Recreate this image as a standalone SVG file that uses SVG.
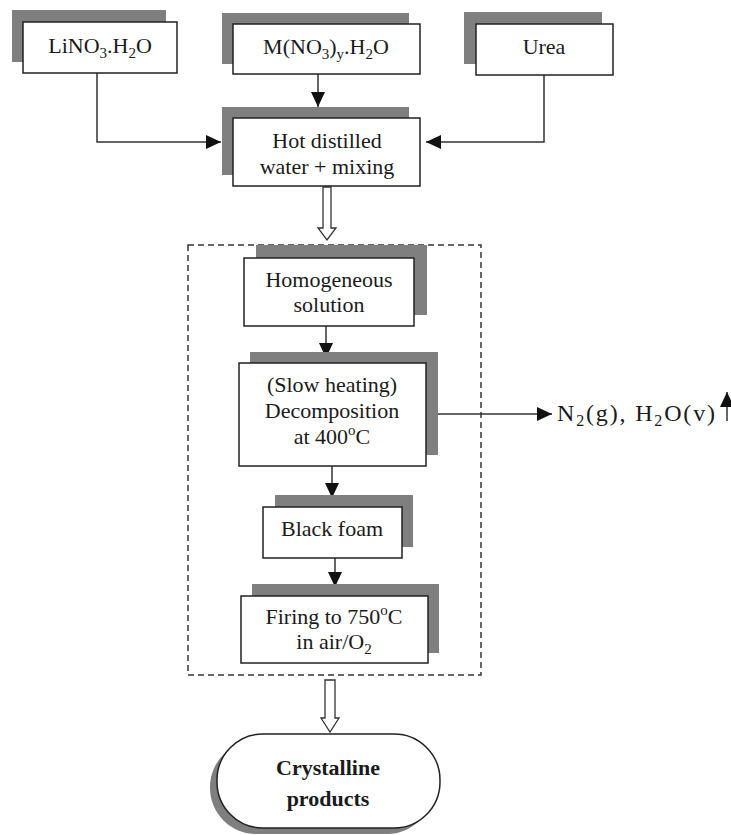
<svg xmlns="http://www.w3.org/2000/svg" width="731" height="835" viewBox="0 0 731 835">
<style>
.sh{fill:#7f7f7f}
.bx{fill:#fff;stroke:#222;stroke-width:1.5}
.t{font-family:"Liberation Serif","Times New Roman",serif;font-size:22px;fill:#1a1a1a;text-anchor:middle}
.b{font-weight:bold}
.ln{fill:none;stroke:#333;stroke-width:1.5}
.ha{fill:#fff;stroke:#333;stroke-width:1.3}
.sub{font-size:15px}
</style>
<defs>
<marker id="ahl" viewBox="0 0 15 14" refX="15" refY="7" markerWidth="15" markerHeight="14" markerUnits="userSpaceOnUse" orient="auto">
<path d="M0,0 L15,7 L0,14 z" fill="#111"/>
</marker>
</defs>
<g id="connectors">
<path class="ln" d="M97,73 V142 H221" marker-end="url(#ahl)"/>
<path class="ln" d="M544,75 V142 H426" marker-end="url(#ahl)"/>
<path class="ln" d="M318,74 V107" marker-end="url(#ahl)"/>
<path class="ha" d="M323,187 V228 H318 L327,240 L336,228 H331 V187 z"/>
<rect x="188" y="245" width="293" height="430" fill="none" stroke="#333" stroke-width="1.5" stroke-dasharray="6,4"/>
<path class="ln" d="M326,326 V358" marker-end="url(#ahl)"/>
<path class="ln" d="M426,414 H552" marker-end="url(#ahl)"/>
<path class="ln" d="M727,421 V392" marker-end="url(#ahl)"/>
<path class="ln" d="M332,466 V498" marker-end="url(#ahl)"/>
<path class="ln" d="M335,558 V587" marker-end="url(#ahl)"/>
<path class="ha" d="M325,680 V718 H321 L330,732 L339,718 H335 V680 z"/>
</g>
<g id="lino3">
<rect class="sh" x="12" y="10" width="154" height="52"/>
<rect class="bx" x="23" y="22" width="154" height="51"/>
<text class="t" x="100" y="53">LiNO<tspan class="sub" dy="5">3</tspan><tspan dy="-5">.H</tspan><tspan class="sub" dy="5">2</tspan><tspan dy="-5">O</tspan></text>
</g>
<g id="mno3">
<rect class="sh" x="222" y="13" width="187" height="51"/>
<rect class="bx" x="233" y="24" width="187" height="50"/>
<text class="t" x="326" y="54">M(NO<tspan class="sub" dy="5">3</tspan><tspan dy="-5">)</tspan><tspan class="sub" dy="5">y</tspan><tspan dy="-5">.H</tspan><tspan class="sub" dy="5">2</tspan><tspan dy="-5">O</tspan></text>
</g>
<g id="urea">
<rect class="sh" x="464" y="12" width="138" height="52"/>
<rect class="bx" x="476" y="24" width="137" height="51"/>
<text class="t" x="544" y="54">Urea</text>
</g>
<g id="mixing">
<rect class="sh" x="222" y="107" width="187" height="68"/>
<rect class="bx" x="233" y="118" width="187" height="68"/>
<text class="t" x="327" y="148">Hot distilled</text>
<text class="t" x="327" y="174">water + mixing</text>
</g>
<g id="homogeneous">
<rect class="sh" x="256" y="245" width="171" height="70"/>
<rect class="bx" x="244" y="258" width="170" height="68"/>
<text class="t" x="329" y="287">Homogeneous</text>
<text class="t" x="329" y="312">solution</text>
</g>
<g id="decomposition">
<rect class="sh" x="250" y="352" width="188" height="103"/>
<rect class="bx" x="239" y="363" width="187" height="103"/>
<text class="t" x="332" y="392">(Slow heating)</text>
<text class="t" x="332" y="418">Decomposition</text>
<text class="t" x="332" y="444">at 400<tspan class="sub" dy="-9">o</tspan><tspan dy="9">C</tspan></text>
</g>
<g id="gases">
<text class="t" x="557" y="421" textLength="158" lengthAdjust="spacing" style="text-anchor:start;font-size:24px">N<tspan class="sub" dy="5" style="font-size:16px">2</tspan><tspan dy="-5">(g), H</tspan><tspan class="sub" dy="5" style="font-size:16px">2</tspan><tspan dy="-5">O(v)</tspan></text>
</g>
<g id="foam">
<rect class="sh" x="275" y="495" width="138" height="52"/>
<rect class="bx" x="263" y="507" width="139" height="51"/>
<text class="t" x="332" y="536">Black foam</text>
</g>
<g id="firing">
<rect class="sh" x="252" y="584" width="187" height="69"/>
<rect class="bx" x="241" y="596" width="187" height="67"/>
<text class="t" x="334" y="624">Firing to 750<tspan class="sub" dy="-9">o</tspan><tspan dy="9">C</tspan></text>
<text class="t" x="334" y="649">in air/O<tspan class="sub" dy="5">2</tspan></text>
</g>
<g id="products">
<rect class="sh" x="210" y="741" width="223" height="93" rx="46" ry="46"/>
<rect class="bx" x="217" y="734" width="223" height="94" rx="46" ry="46"/>
<text class="t b" x="328" y="775">Crystalline</text>
<text class="t b" x="328" y="806">products</text>
</g>
</svg>
